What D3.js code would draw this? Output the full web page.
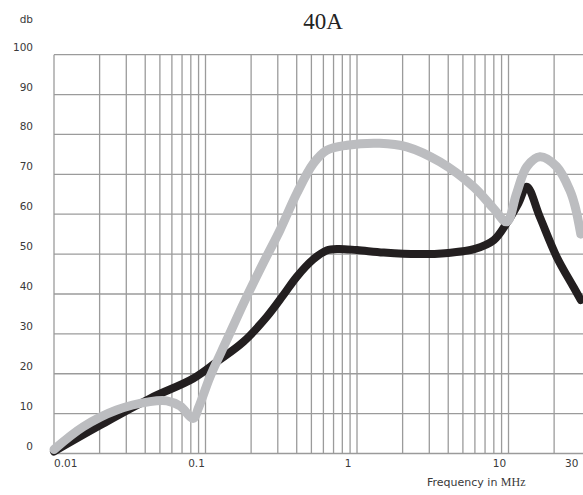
<!DOCTYPE html>
<html>
<head>
<meta charset="utf-8">
<script src="https://cdn.jsdelivr.net/npm/d3@7"></script>
<style>
  html, body { margin: 0; padding: 0; background: #fff; }
  svg { display: block; }
</style>
</head>
<body>
<svg id="chart" width="583" height="495"></svg>
<script>
// ---- data ----
const title = "40A";
const yLabel = "db";
const xLabelSans = "Frequency in ";
const xLabelSerif = "MHz";
const yTicks = [0, 10, 20, 30, 40, 50, 60, 70, 80, 90, 100];
const xTickValues = [0.01, 0.1, 1, 10, 30];
const xTickLabels = ["0.01", "0.1", "1", "10", "30"];
const xGridValues = [0.01,0.02,0.03,0.04,0.05,0.06,0.07,0.08,0.09,0.1,
                     0.2,0.3,0.4,0.5,0.6,0.7,0.8,0.9,1,
                     2,3,4,5,6,7,8,9,10,20];

const blackFreq = [0.01, 0.02, 0.043, 0.083, 0.119, 0.178, 0.254, 0.326, 0.40, 0.515, 0.63, 0.75, 1.0, 1.5, 2.5, 4.0, 6.0, 8.0, 9.7, 11.6, 13.2, 16.1, 20.8, 26.8, 30];
const blackDb   = [0.5,  7.0,  13.8,  18.8,  23.0,  28.0,  34.3,  39.7,  44.3, 48.7,  50.9, 51.3, 51.0, 50.4, 50.0, 50.3, 51.3, 53.5, 57.7, 62.7, 66.9, 59.3, 49.3, 41.8, 38.5];

const grayFreq = [0.01, 0.0156, 0.0259, 0.043, 0.0555, 0.068, 0.083, 0.09, 0.107, 0.138, 0.178, 0.24, 0.31, 0.40, 0.515, 0.63, 0.86, 1.41, 2.13, 3.53, 5.86, 7.94, 9.73, 11.3, 13.2, 16.1, 20.8, 25.4, 27.5, 30];
const grayDb   = [1.0,  6.7,    10.9,   13.0,  13.2,   11.9,  8.8,   11.5, 19.2,  28.4,  37.6,  47.7, 56.0, 65.2, 72.7,  76.0, 77.3, 77.8, 76.9, 73.1, 66.9, 61.5, 58.1, 65.2, 71.9, 74.4, 71.9, 66.0, 62.0, 55.0];

// ---- layout ----
const svg = d3.select("#chart");
const plotLeft = 54, plotRight = 580.8, plotTop = 54.7, plotBottom = 453.5, gridRight = 583;

const x = d3.scaleLog().domain([0.01, 30]).range([plotLeft, plotRight]);
const y = d3.scaleLinear().domain([0, 100]).range([plotBottom, plotTop]);

const gridColor = "#9b9b9b";
const textColor = "#3a3a3a";
const sans = "'DejaVu Sans', sans-serif";
const serif = "'Liberation Serif', 'Times New Roman', serif";

// horizontal grid
svg.append("g").selectAll("line").data(yTicks).join("line")
  .attr("x1", plotLeft).attr("x2", gridRight)
  .attr("y1", d => y(d)).attr("y2", d => y(d))
  .attr("stroke", gridColor).attr("stroke-width", 1.3);

// vertical grid
svg.append("g").selectAll("line").data(xGridValues).join("line")
  .attr("x1", d => x(d)).attr("x2", d => x(d))
  .attr("y1", plotTop).attr("y2", plotBottom)
  .attr("stroke", gridColor).attr("stroke-width", 1.3);

// y tick labels
svg.append("g").selectAll("text").data(yTicks).join("text")
  .attr("x", 33).attr("y", d => y(d) - 4)
  .attr("text-anchor", "end")
  .attr("font-family", sans).attr("font-size", 10.5)
  .attr("fill", textColor)
  .text(d => d);

// x tick labels
svg.append("g").selectAll("text").data(xTickValues).join("text")
  .attr("x", (d, i) => i === 0 ? x(d) : x(d) - 9)
  .attr("y", 467)
  .attr("text-anchor", (d, i) => i === 0 ? "start" : "middle")
  .attr("font-family", sans).attr("font-size", 10.5)
  .attr("fill", textColor)
  .text((d, i) => xTickLabels[i]);

// title
svg.append("text")
  .attr("x", 323).attr("y", 28.5)
  .attr("text-anchor", "middle")
  .attr("font-family", serif).attr("font-size", 23)
  .attr("fill", "#222")
  .text(title);

// y unit label
svg.append("text")
  .attr("x", 33).attr("y", 22.5)
  .attr("text-anchor", "end")
  .attr("font-family", sans).attr("font-size", 10.5)
  .attr("fill", textColor)
  .text(yLabel);

// x axis label
const xl = svg.append("text")
  .attr("x", 427).attr("y", 485.5)
  .attr("font-family", sans).attr("font-size", 11)
  .attr("fill", textColor);
xl.append("tspan").text(xLabelSans);
xl.append("tspan").attr("font-family", serif).attr("font-size", 12).text(xLabelSerif);

// series
const line = d3.line()
  .x(d => x(d[0]))
  .y(d => y(d[1]))
  .curve(d3.curveCatmullRom.alpha(0.5));

const blackData = blackFreq.map((f, i) => [f, blackDb[i]]);
const grayData = grayFreq.map((f, i) => [f, grayDb[i]]);

svg.append("path").datum(blackData)
  .attr("d", line)
  .attr("fill", "none")
  .attr("stroke", "#231f20")
  .attr("stroke-width", 8)
  .attr("stroke-linecap", "round")
  .attr("stroke-linejoin", "round");

svg.append("path").datum(grayData)
  .attr("d", line)
  .attr("fill", "none")
  .attr("stroke", "#bcbdc0")
  .attr("stroke-width", 9)
  .attr("stroke-linecap", "round")
  .attr("stroke-linejoin", "round");
</script>
</body>
</html>
